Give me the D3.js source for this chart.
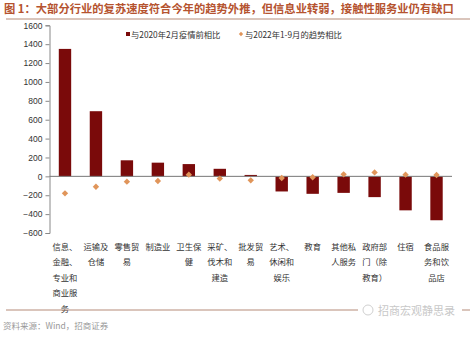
<!DOCTYPE html>
<html>
<head>
<meta charset="utf-8">
<script src="https://cdn.jsdelivr.net/npm/d3@7"></script>
<style>
  body { margin: 0; background: #fff; }
  svg { display: block; font-family: "Liberation Sans", Arial, sans-serif; }
</style>
</head>
<body>
<svg id="chart" width="474" height="344"></svg>
<script>
// Industry categories (x axis)
const categories = [
  "信息、金融、专业和商业服务", "运输及仓储", "零售贸易", "制造业", "卫生保健",
  "采矿、伐木和建造", "批发贸易", "艺术、休闲和娱乐", "教育", "其他私人服务",
  "政府部门（除教育）", "住宿", "食品服务和饮品店"
];
// Compared with Feb 2020 (pre-pandemic) — bars
const vsPrePandemic = [1350, 690, 170, 145, 130, 80, 15, -160, -185, -175, -220, -360, -465];
// Compared with the Jan–Sep 2022 trend — diamonds
const vsTrend2022 = [-180, -110, -56, -49, 18, -24, -42, -18, -10, 21, 42, 18, 14];
const yTicks = [1600, 1400, 1200, 1000, 800, 600, 400, 200, 0, -200, -400, -600];
const seriesNames = ["与2020年2月疫情前相比", "与2022年1-9月的趋势相比"];

const barColor = "#7a0a0a";
const dotColor = "#e0955a";

const svg = d3.select("#chart");
const margin = { left: 49.5, right: 22, top: 25.3, bottom: 111 };
const W = 474, H = 344;

const x = d3.scaleBand()
  .domain(categories)
  .range([margin.left, W - margin.right])
  .paddingInner(0.6)
  .paddingOuter(0.3);

const y = d3.scaleLinear()
  .domain([-600, 1600])
  .range([233, 25.3]);

// Title
svg.append("text")
  .attr("x", 4).attr("y", 13)
  .attr("font-family", "'Noto Sans CJK SC', sans-serif")
  .attr("font-weight", "bold")
  .attr("font-size", 11.3)
  .attr("fill", "#b5532f")
  .text("图 1：大部分行业的复苏速度符合今年的趋势外推，但信息业转弱，接触性服务业仍有缺口");
svg.append("line")
  .attr("x1", 6).attr("x2", 470).attr("y1", 19).attr("y2", 19)
  .attr("stroke", "#b58b78").attr("stroke-width", 1);

// Y axis
const yAxis = d3.axisLeft(y).tickValues(yTicks).tickFormat(d3.format("d")).tickSize(4).tickPadding(3);
const gy = svg.append("g")
  .attr("transform", `translate(${margin.left},0)`)
  .call(yAxis);
gy.select(".domain").attr("stroke", "#888");
gy.selectAll(".tick line").attr("stroke", "#888");
gy.selectAll(".tick text")
  .attr("font-size", 8.5)
  .attr("fill", "#333");

// Bars
svg.append("g").selectAll("rect")
  .data(categories)
  .join("rect")
  .attr("x", d => x(d))
  .attr("width", x.bandwidth())
  .attr("y", (d, i) => y(Math.max(0, vsPrePandemic[i])))
  .attr("height", (d, i) => Math.abs(y(vsPrePandemic[i]) - y(0)))
  .attr("fill", barColor);

// Zero line
svg.append("line")
  .attr("x1", margin.left).attr("x2", W - margin.right)
  .attr("y1", y(0)).attr("y2", y(0))
  .attr("stroke", "#777").attr("stroke-width", 1);

// Diamonds
const diamond = d3.symbol().type(d3.symbolDiamond2).size(26);
svg.append("g").selectAll("path")
  .data(categories)
  .join("path")
  .attr("d", diamond)
  .attr("transform", (d, i) => `translate(${x(d) + x.bandwidth() / 2},${y(vsTrend2022[i])})`)
  .attr("fill", dotColor);

// Category labels, wrapped three characters per line
const labelG = svg.append("g")
  .attr("font-family", "'Noto Sans CJK SC', sans-serif")
  .attr("font-size", 8.3)
  .attr("fill", "#333")
  .attr("text-anchor", "middle");
categories.forEach(c => {
  const chars = Array.from(c);
  const lines = [];
  for (let i = 0; i < chars.length; i += 3) lines.push(chars.slice(i, i + 3).join(""));
  const t = labelG.append("text")
    .attr("x", x(c) + x.bandwidth() / 2)
    .attr("y", 250);
  lines.forEach((ln, k) => {
    t.append("tspan")
      .attr("x", x(c) + x.bandwidth() / 2)
      .attr("dy", k === 0 ? 0 : 15.4)
      .text(ln);
  });
});

// Legend
const lg = svg.append("g")
  .attr("font-family", "'Noto Sans CJK SC', sans-serif")
  .attr("font-size", 8.3)
  .attr("fill", "#333");
lg.append("rect").attr("x", 126).attr("y", 32).attr("width", 4).attr("height", 4).attr("fill", barColor);
lg.append("text").attr("x", 131).attr("y", 37.5).text(seriesNames[0]);
lg.append("path")
  .attr("d", d3.symbol().type(d3.symbolDiamond2).size(12))
  .attr("transform", "translate(241,34)")
  .attr("fill", dotColor);
lg.append("text").attr("x", 245).attr("y", 37.5).text(seriesNames[1]);

// Footer
svg.append("line")
  .attr("x1", 6).attr("x2", 470).attr("y1", 310).attr("y2", 310)
  .attr("stroke", "#b58b78").attr("stroke-width", 1);
svg.append("text")
  .attr("x", 3).attr("y", 329)
  .attr("font-family", "'Noto Sans CJK SC', sans-serif")
  .attr("font-size", 8.5)
  .attr("fill", "#999")
  .text("资料来源：Wind，招商证券");
svg.append("rect")
  .attr("x", 358).attr("y", 302).attr("width", 104).attr("height", 16)
  .attr("fill", "#fff");
svg.append("text")
  .attr("x", 378).attr("y", 315)
  .attr("font-family", "'Noto Sans CJK SC', sans-serif")
  .attr("font-size", 11)
  .attr("fill", "#c8c8c8")
  .text("招商宏观静思录");
svg.append("circle")
  .attr("cx", 368).attr("cy", 310).attr("r", 5)
  .attr("fill", "none").attr("stroke", "#d0d0d0").attr("stroke-width", 1);
</script>
</body>
</html>
